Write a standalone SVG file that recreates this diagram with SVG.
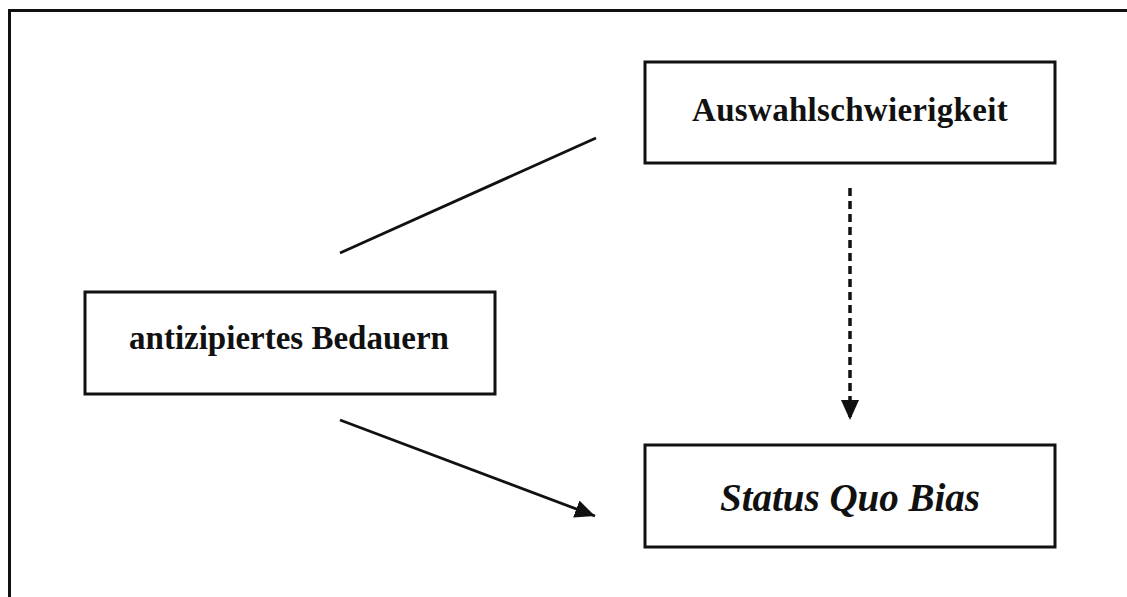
<svg xmlns="http://www.w3.org/2000/svg" width="1127" height="597" viewBox="0 0 1127 597">
<style>
.box{fill:#fff;stroke:#111;stroke-width:3}
.lbl{font-family:"Liberation Serif","Times New Roman",serif;font-weight:bold;fill:#111;text-anchor:middle}
.ln{stroke:#111;stroke-width:2.8;fill:none}
.dash{stroke-width:3.5;stroke-dasharray:8,5}
</style>
<defs>
<marker id="ah" markerUnits="userSpaceOnUse" viewBox="0 0 20 18" refX="20" refY="9" markerWidth="20" markerHeight="18" orient="auto">
<path d="M0,0 L20,9 L0,18 Z" fill="#111"/>
</marker>
</defs>
<rect width="1127" height="597" fill="#fff"/>
<rect x="9.5" y="10.5" width="1130" height="600" fill="none" stroke="#111" stroke-width="3"/>
<g id="connectors">
<line class="ln" x1="340" y1="253" x2="596" y2="138"/>
<line class="ln" x1="340" y1="420" x2="595" y2="516" marker-end="url(#ah)"/>
<line class="ln dash" x1="850" y1="188" x2="850" y2="420" marker-end="url(#ah)"/>
</g>
<g id="auswahl">
<rect class="box" x="645" y="62" width="410" height="101"/>
<text class="lbl" x="850" y="121" font-size="33" letter-spacing="0.3">Auswahlschwierigkeit</text>
</g>
<g id="bedauern">
<rect class="box" x="85" y="292" width="410" height="102"/>
<text class="lbl" x="289" y="349" font-size="33">antizipiertes Bedauern</text>
</g>
<g id="statusquo">
<rect class="box" x="645" y="445" width="410" height="102"/>
<text class="lbl" x="850" y="511" font-size="39" font-style="italic">Status Quo Bias</text>
</g>
</svg>
